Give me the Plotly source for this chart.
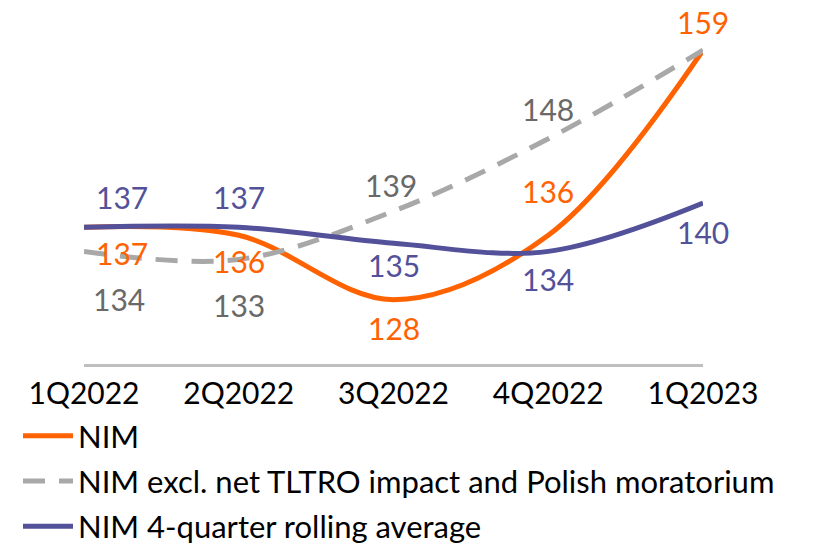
import plotly.graph_objects as go

quarters = ["1Q2022", "2Q2022", "3Q2022", "4Q2022", "1Q2023"]
nim = [137, 136, 128, 136, 159]
nim_excl = [134, 133, 139, 148, 159]
nim_avg = [137, 137, 135, 134, 140]

ORANGE = "#FF6200"
GREY = "#A8A8A8"
GREY_TXT = "#696969"
PURPLE = "#525199"
FONT = "Lato"

W, H = 816, 549

# pixel shifts of the value labels (x, y) per point
nim_shift = [(38, -26), (0, -26), (0, -28), (0, 44), (0, 28)]
excl_shift = [(35, -48), (0, -46), (-3, 26), (0, 30)]  # last point hidden under NIM 159
avg_shift = [(38, 30), (0, 30), (0, -22), (0, -28), (0, -29)]

fig = go.Figure()
fig.add_trace(go.Scatter(x=quarters, y=nim, name="NIM", mode="lines", legendgroup="a",
                         line=dict(color=ORANGE, width=5, shape="spline", smoothing=1)))
fig.add_trace(go.Scatter(x=quarters, y=nim_excl,
                         name="NIM excl. net TLTRO impact and Polish moratorium",
                         mode="lines", legendgroup="b",
                         line=dict(color=GREY, width=5, dash="22px,14px",
                                   shape="spline", smoothing=1)))
fig.add_trace(go.Scatter(x=quarters, y=nim_avg, name="NIM 4-quarter rolling average",
                         mode="lines", legendgroup="c",
                         line=dict(color=PURPLE, width=5, shape="spline", smoothing=1)))


def add_labels(values, shifts, color):
    for q, v, (dx, dy) in zip(quarters, values, shifts):
        fig.add_annotation(x=q, y=v, text=str(v), showarrow=False,
                           xshift=dx, yshift=dy, height=30,
                           font=dict(family=FONT, size=30, color=color))


add_labels(nim, nim_shift, ORANGE)
add_labels(nim_excl, excl_shift, GREY_TXT)
add_labels(nim_avg, avg_shift, PURPLE)

fig.update_layout(
    width=W, height=H,
    margin=dict(l=84, r=113, t=10, b=185, autoexpand=False),
    paper_bgcolor="white", plot_bgcolor="white",
    font=dict(family=FONT, size=32, color="black"),
    xaxis=dict(range=[0, 4], showgrid=False, zeroline=False, showline=True,
               linecolor="#BFBFBF", linewidth=3, ticks="", ticklabelstandoff=1,
               tickfont=dict(size=30, color="black")),
    yaxis=dict(range=[120, 164], visible=False),
    showlegend=True,
    legend=dict(xref="container", x=18 / W, xanchor="left",
                yref="container", y=1 - 409 / H, yanchor="top",
                font=dict(size=31, color="black"), itemwidth=50,
                tracegroupgap=2, bgcolor="rgba(0,0,0,0)"),
)

# drop the default 8px page margin so the figure fills the window
fig.write_html("out.html", config={"displayModeBar": False},
               post_script="document.body.style.margin = '0';")
